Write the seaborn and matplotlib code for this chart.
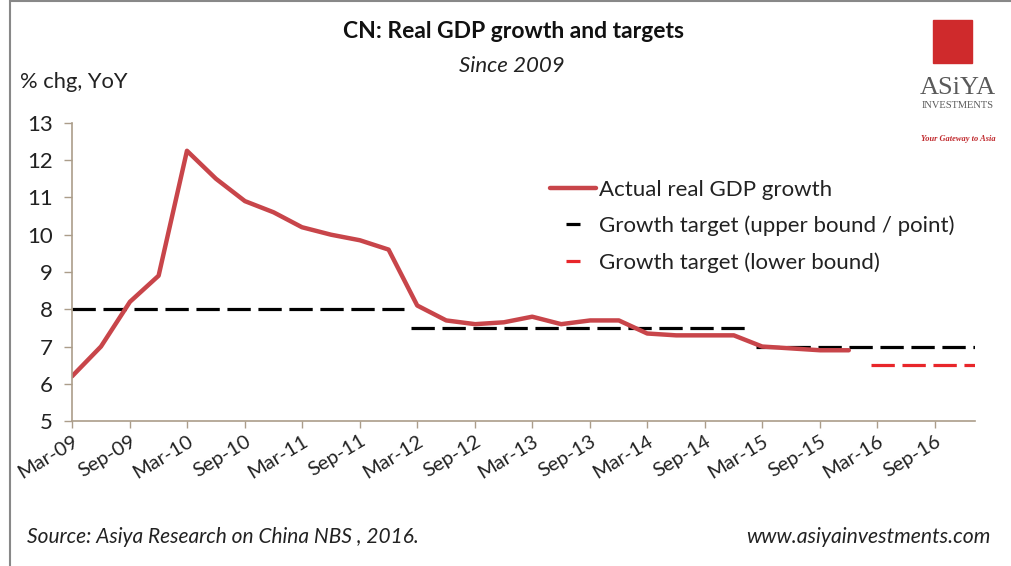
import pandas as pd
import seaborn as sns
import matplotlib.pyplot as plt
import matplotlib.dates as mdates
from matplotlib.lines import Line2D
from matplotlib.patches import Rectangle

# Datos trimestrales
quarters = ["2009-03", "2009-06", "2009-09", "2009-12",
            "2010-03", "2010-06", "2010-09", "2010-12",
            "2011-03", "2011-06", "2011-09", "2011-12",
            "2012-03", "2012-06", "2012-09", "2012-12",
            "2013-03", "2013-06", "2013-09", "2013-12",
            "2014-03", "2014-06", "2014-09", "2014-12",
            "2015-03", "2015-06", "2015-09", "2015-12"]
gdp_growth = [6.2, 7.0, 8.2, 8.9,
              12.25, 11.5, 10.9, 10.6,
              10.2, 10.0, 9.85, 9.6,
              8.1, 7.7, 7.6, 7.65,
              7.8, 7.6, 7.7, 7.7,
              7.35, 7.3, 7.3, 7.3,
              7.0, 6.95, 6.9, 6.9]

# Objetivos de crecimiento: inicio, fin, valor
target_start = ["2009-03-01", "2012-02-10", "2015-02-10"]
target_end = ["2012-01-20", "2015-01-20", "2017-01-20"]
target_value = [8.0, 7.5, 7.0]

lower_start = ["2016-02-10"]
lower_end = ["2017-01-20"]
lower_value = [6.5]

tick_dates = pd.date_range("2009-03-01", "2016-09-01", freq="6MS")

df = pd.DataFrame({"fecha": pd.to_datetime(quarters), "pib": gdp_growth})


def segments(starts, ends, values):
    rows = []
    for i, (s, e, v) in enumerate(zip(starts, ends, values)):
        rows.append({"seg": i, "fecha": pd.Timestamp(s), "valor": v})
        rows.append({"seg": i, "fecha": pd.Timestamp(e), "valor": v})
    return pd.DataFrame(rows)


upper_df = segments(target_start, target_end, target_value)
lower_df = segments(lower_start, lower_end, lower_value)

sns.set_style("white")
plt.rcParams["font.family"] = ["Lato", "DejaVu Sans"]

fig = plt.figure(figsize=(10.11, 5.66), dpi=100)
ax = fig.add_axes([0.0712, 0.256, 0.893, 0.527])

dash = (0, (7.3, 2.4))
sns.lineplot(data=upper_df, x="fecha", y="valor", units="seg", estimator=None,
             color="black", linewidth=2.3, linestyle=dash, ax=ax)
sns.lineplot(data=lower_df, x="fecha", y="valor", units="seg", estimator=None,
             color="#e8262a", linewidth=2.3, linestyle=dash, ax=ax)
sns.lineplot(data=df, x="fecha", y="pib", color="#c8454a", linewidth=3.2,
             solid_joinstyle="round", solid_capstyle="round", ax=ax)

ax.set_xlim(pd.Timestamp("2009-03-01"), pd.Timestamp("2017-01-04"))
ax.set_ylim(5, 13)
ax.set_yticks(range(5, 14))
ax.set_xticks(tick_dates)
ax.xaxis.set_major_formatter(mdates.DateFormatter("%b-%y"))
ax.set_xlabel("")
ax.set_ylabel("")

spine_col = "#ab9d8a"
for s in ["top", "right"]:
    ax.spines[s].set_visible(False)
for s in ["left", "bottom"]:
    ax.spines[s].set_color(spine_col)
    ax.spines[s].set_linewidth(1.2)
ax.tick_params(axis="y", left=True, length=6, width=1, color=spine_col,
               labelsize=16, labelcolor="#222222", pad=8)
ax.tick_params(axis="x", bottom=True, length=5, width=1, color=spine_col,
               labelsize=14.5, labelcolor="#222222", pad=3)
for lbl in ax.get_xticklabels():
    lbl.set_rotation(31)
    lbl.set_ha("right")
    lbl.set_rotation_mode("anchor")

handles = [
    Line2D([], [], color="#c8454a", linewidth=3.2),
    Line2D([], [], linestyle="none", marker="_", markersize=10,
           markeredgewidth=2.3, color="black"),
    Line2D([], [], linestyle="none", marker="_", markersize=10,
           markeredgewidth=2.3, color="#e8262a"),
]
labels = ["Actual real GDP growth",
          "Growth target (upper bound / point)",
          "Growth target (lower bound)"]
fig.legend(handles, labels, loc="upper left", bbox_to_anchor=(0.524, 0.718),
           frameon=False, fontsize=16, handlelength=2.1, handletextpad=0.1,
           labelspacing=0.72, labelcolor="#222222")

# Textos
fig.text(0.508, 0.945, "CN: Real GDP growth and targets", ha="center",
         va="center", fontsize=16.5, fontweight="bold", color="#111111")
fig.text(0.506, 0.884, "Since 2009", ha="center", va="center", fontsize=16,
         style="italic", color="#222222")
fig.text(0.02, 0.855, "% chg, YoY", ha="left", va="center", fontsize=15.8,
         color="#222222")
fig.text(0.027, 0.051, "Source: Asiya Research on China NBS , 2016.",
         ha="left", va="center", fontsize=15, style="italic", color="#222222")
fig.text(0.98, 0.051, "www.asiyainvestments.com", ha="right", va="center",
         fontsize=15.2, style="italic", color="#222222")

# Logo
fig.patches.append(Rectangle((933 / 1011, 1 - 63 / 566), 39 / 1011, 43 / 566,
                             transform=fig.transFigure, color="#cf2a2c"))
fig.text(958 / 1011, 1 - 88 / 566, "ASiYA", ha="center", va="center",
         fontsize=19, family="Liberation Serif", color="#5a5a5a")
fig.text(958 / 1011, 1 - 106 / 566, "INVESTMENTS", ha="center", va="center",
         fontsize=7.5, family="Liberation Serif", color="#5a5a5a")
fig.text(958 / 1011, 1 - 139 / 566, "Your Gateway to Asia", ha="center",
         va="center", fontsize=6, family="Liberation Serif", style="italic",
         fontweight="bold", color="#c0282c")

# Marco
fig.add_artist(Line2D([10 / 1011, 10 / 1011], [0, 1], transform=fig.transFigure,
                      color="#888888", linewidth=1.5))
fig.add_artist(Line2D([10 / 1011, 1], [0.998, 0.998], transform=fig.transFigure,
                      color="#888888", linewidth=1.5))

fig.savefig("out.png", dpi=100)
